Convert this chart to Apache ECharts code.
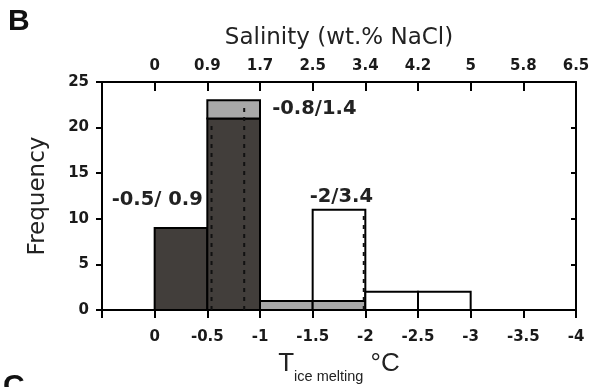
<!DOCTYPE html>
<html>
<head>
<meta charset="utf-8">
<script src="https://cdn.jsdelivr.net/npm/echarts@6/dist/echarts.min.js"></script>
<style>
html,body{margin:0;padding:0;background:#fff;}
#chart{width:594px;height:387px;}
</style>
</head>
<body>
<div id="chart"></div>
<script>
// ---- data ----
var binStart = [0, -0.5, -1, -1.5, -2, -2.5];
var binEnd = [-0.5, -1, -1.5, -2, -2.5, -3];
var darkCounts = [9, 21, 0, 0, 0, 0];
var grayCounts = [0, 2, 1, 1, 0, 0];
var whiteCounts = [0, 0, 0, 10, 2, 2];
var tempTickLabels = ['0', '-0.5', '-1', '-1.5', '-2', '-2.5', '-3', '-3.5', '-4'];
var salinityTickLabels = ['0', '0.9', '1.7', '2.5', '3.4', '4.2', '5', '5.8', '6.5'];
var dotX = [-0.54, -0.85, -1.985];
var dotTop = [21, 23, 11];
var annX = [-0.024, -1.516, -1.772];
var annY = [12.06, 22.0, 12.4];
var annText = ['-0.5/ 0.9', '-0.8/1.4', '-2/3.4'];

var fills = ['#423e3b', '#a8a8a8', '#ffffff'];
var layers = [darkCounts, grayCounts, whiteCounts];
var barData = [];
for (var i = 0; i < binStart.length; i++) {
  var base = 0;
  for (var l = 0; l < layers.length; l++) {
    var c = layers[l][i];
    if (c > 0) {
      barData.push([binStart[i], binEnd[i], base, base + c, l]);
      base += c;
    }
  }
}
var dotData = dotX.map(function (x, k) { return [x, dotTop[k]]; });
var annData = annX.map(function (x, k) { return [x, annY[k]]; });

function tickIndex(v) { return Math.round(-v / 0.5); }

var chart = echarts.init(document.getElementById('chart'), null, {renderer: 'canvas'});
var axisLineStyle = {color: '#000', width: 2};
var labelFont = {fontSize: 15, fontWeight: 'bold', fontFamily: 'DejaVu Sans', color: '#1a1a1a'};

chart.setOption({
  animation: false,
  backgroundColor: '#fff',
  title: [
    {text: 'B', left: 8, top: 7, padding: 0, textStyle: {fontSize: 30, fontWeight: 'bold', fontFamily: 'Liberation Sans', color: '#111'}},
    {text: 'C', left: 3, top: 372, padding: 0, textStyle: {fontSize: 30, fontWeight: 'bold', fontFamily: 'Liberation Sans', color: '#111'}}
  ],
  grid: {left: 102, right: 18, top: 82, bottom: 77, containLabel: false, outerBoundsMode: 'none'},
  xAxis: [
    {
      type: 'value', position: 'bottom', min: -4, max: 0.5, interval: 0.5, inverse: true,
      axisLine: {show: true, onZero: false, lineStyle: axisLineStyle},
      axisTick: {show: true, length: 8, lineStyle: axisLineStyle},
      splitLine: {show: false},
      axisLabel: Object.assign({margin: 20, formatter: function (v) {
        var k = tickIndex(v); return (k >= 0 && k < tempTickLabels.length) ? tempTickLabels[k] : '';
      }}, labelFont),
      name: '{t|T}{s|ice melting}{c| °C}',
      nameLocation: 'middle', nameGap: 41,
      nameTextStyle: {
        rich: {
          t: {fontSize: 26, fontFamily: 'Liberation Sans', color: '#222', lineHeight: 30, verticalAlign: 'top'},
          s: {fontSize: 14.5, fontFamily: 'Liberation Sans', color: '#222', lineHeight: 16, padding: [18, 0, 0, 0], verticalAlign: 'top'},
          c: {fontSize: 26, fontFamily: 'Liberation Sans', color: '#222', lineHeight: 30, verticalAlign: 'top'}
        }
      }
    },
    {
      type: 'value', position: 'top', min: -4, max: 0.5, interval: 0.5, inverse: true,
      axisLine: {show: true, onZero: false, lineStyle: axisLineStyle},
      axisTick: {show: true, inside: true, length: 9, lineStyle: axisLineStyle},
      splitLine: {show: false},
      axisLabel: Object.assign({margin: 8, formatter: function (v) {
        var k = tickIndex(v); return (k >= 0 && k < salinityTickLabels.length) ? salinityTickLabels[k] : '';
      }}, labelFont),
      name: 'Salinity (wt.% NaCl)', nameLocation: 'middle', nameGap: 32,
      nameTextStyle: {fontSize: 23, fontFamily: 'DejaVu Sans', color: '#222'}
    }
  ],
  yAxis: [
    {
      type: 'value', position: 'left', min: 0, max: 25, interval: 5,
      axisLine: {show: true, onZero: false, lineStyle: axisLineStyle},
      axisTick: {show: true, length: 6, lineStyle: axisLineStyle},
      splitLine: {show: false},
      axisLabel: Object.assign({margin: 13}, labelFont),
      name: 'Frequency', nameLocation: 'middle', nameGap: 52, nameRotate: 90,
      nameTextStyle: {fontSize: 23, fontFamily: 'DejaVu Sans', color: '#222'}
    },
    {
      type: 'value', position: 'right', min: 0, max: 25, interval: 5,
      axisLine: {show: true, onZero: false, lineStyle: axisLineStyle},
      axisTick: {show: true, inside: true, length: 5, lineStyle: axisLineStyle},
      splitLine: {show: false},
      axisLabel: {show: false}
    }
  ],
  series: [
    {
      type: 'custom', xAxisIndex: 0, yAxisIndex: 0, z: 2,
      data: barData,
      encode: {x: [0, 1], y: [2, 3]},
      renderItem: function (params, api) {
        var p0 = api.coord([api.value(0), api.value(3)]);
        var p1 = api.coord([api.value(1), api.value(2)]);
        return {
          type: 'rect',
          shape: {x: Math.min(p0[0], p1[0]), y: p0[1], width: Math.abs(p1[0] - p0[0]), height: p1[1] - p0[1]},
          style: {fill: fills[api.value(4)], stroke: '#000', lineWidth: 2}
        };
      }
    },
    {
      type: 'custom', xAxisIndex: 0, yAxisIndex: 0, z: 3,
      data: dotData,
      encode: {x: 0, y: 1},
      renderItem: function (params, api) {
        var a = api.coord([api.value(0), 0]);
        var b = api.coord([api.value(0), api.value(1)]);
        return {
          type: 'line',
          shape: {x1: a[0], y1: a[1], x2: b[0], y2: b[1] + 3},
          style: {stroke: '#111', lineWidth: 2, lineDash: [4, 5]}
        };
      }
    },
    {
      type: 'custom', xAxisIndex: 0, yAxisIndex: 0, z: 4,
      data: annData,
      encode: {x: 0, y: 1},
      renderItem: function (params, api) {
        var p = api.coord([api.value(0), api.value(1)]);
        return {
          type: 'text', x: p[0], y: p[1],
          style: {text: annText[params.dataIndex], fill: '#222', font: 'bold 19.5px "DejaVu Sans"', align: 'center', verticalAlign: 'middle'}
        };
      }
    }
  ]
});
</script>
</body>
</html>
